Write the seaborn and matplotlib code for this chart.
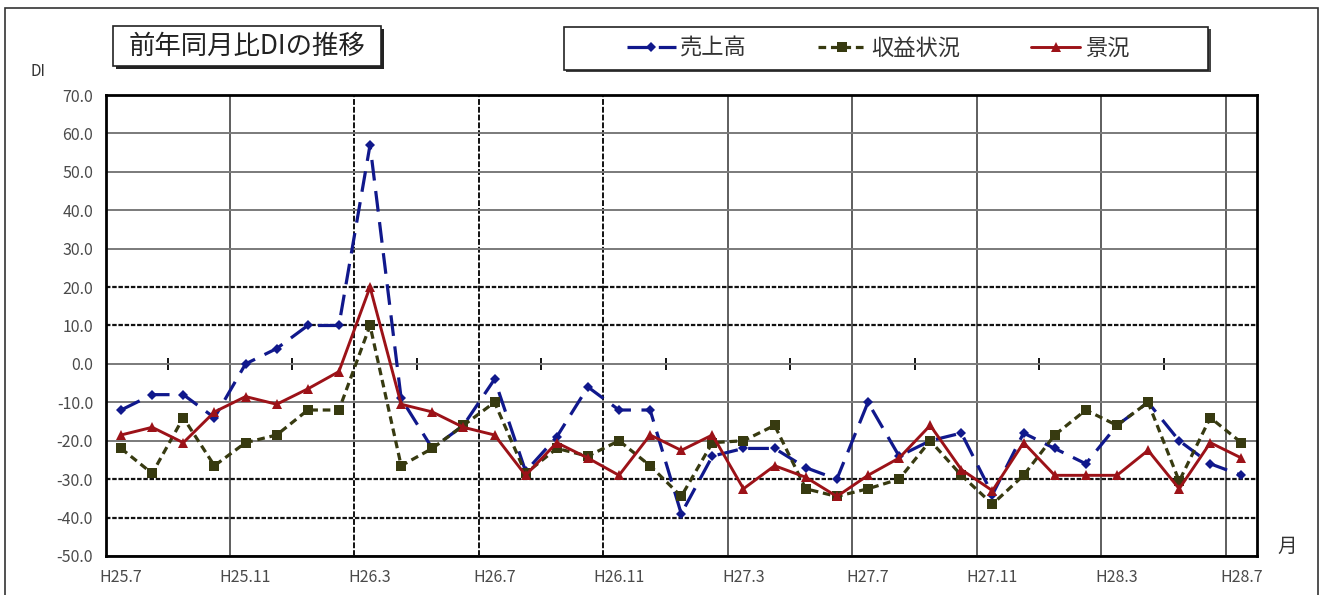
import matplotlib
matplotlib.use("Agg")
import matplotlib.pyplot as plt
import seaborn as sns
import pandas as pd
from matplotlib.patches import Rectangle

# ---------------- data ----------------
months = ["H25.7", "H25.8", "H25.9", "H25.10", "H25.11", "H25.12",
          "H26.1", "H26.2", "H26.3", "H26.4", "H26.5", "H26.6",
          "H26.7", "H26.8", "H26.9", "H26.10", "H26.11", "H26.12",
          "H27.1", "H27.2", "H27.3", "H27.4", "H27.5", "H27.6",
          "H27.7", "H27.8", "H27.9", "H27.10", "H27.11", "H27.12",
          "H28.1", "H28.2", "H28.3", "H28.4", "H28.5", "H28.6", "H28.7"]
tick_labels = ["H25.7", "H25.11", "H26.3", "H26.7", "H26.11",
               "H27.3", "H27.7", "H27.11", "H28.3", "H28.7"]
series_names = ["売上高", "収益状況", "景況"]
sales = [-12, -8, -8, -14, 0, 4, 10, 10, 57, -9, -22, -16, -4, -28, -19, -6,
         -12, -12, -39, -24, -22, -22, -27, -30, -10, -24, -20, -18, -34, -18,
         -22, -26, -16, -10, -20, -26, -29]
profit = [-22, -28.5, -14, -26.5, -20.5, -18.5, -12, -12, 10, -26.5, -22, -16,
          -10, -28.5, -22, -24, -20, -26.5, -34.5, -20.5, -20, -16, -32.5, -34.5,
          -32.5, -30, -20, -29, -36.5, -29, -18.5, -12, -16, -10, -30.5, -14, -20.5]
business = [-18.5, -16.5, -20.5, -12.5, -8.5, -10.5, -6.5, -2, 20, -10.5, -12.5,
            -16.5, -18.5, -29, -20.5, -24.5, -29, -18.5, -22.5, -18.5, -32.5, -26.5,
            -29.5, -34.5, -29, -24.5, -16, -27.5, -33, -20.5, -29, -29, -29, -22.5,
            -32.5, -20.5, -24.5]

df = pd.DataFrame({
    "月": months * 3,
    "pos": list(range(len(months))) * 3,
    "DI": sales + profit + business,
    "系列": [series_names[0]] * len(months) + [series_names[1]] * len(months)
            + [series_names[2]] * len(months),
})

colors = {"売上高": "#10188c", "収益状況": "#373a10", "景況": "#9c1218"}

# ---------------- style ----------------
sns.set_style("white")
plt.rcParams["font.family"] = ["Noto Sans CJK JP", "DejaVu Sans"]

W, H = 1320, 595
fig = plt.figure(figsize=(W / 100, H / 100), dpi=100)
ax = fig.add_axes([105.5 / W, 39 / H, 1151.5 / W, 461 / H])

sns.lineplot(data=df, x="pos", y="DI", hue="系列", style="系列",
             hue_order=series_names, style_order=series_names,
             palette=colors,
             dashes={"売上高": (6.5, 3.3), "収益状況": (2.4, 1.5), "景況": ""},
             markers={"売上高": "D", "収益状況": "s", "景況": "^"},
             linewidth=2.3, markersize=6, markeredgewidth=0,
             sort=False, legend=False, ax=ax)

lines = ax.lines[:3]
lines[0].set_markersize(5.5)
lines[1].set_markersize(6.5)
lines[2].set_linewidth(2.1)
lines[2].set_markersize(6.5)

ax.set_xlim(-0.5, len(months) - 0.5)
ax.set_ylim(-50, 70)
ax.set_xlabel("")
ax.set_ylabel("")

# y axis
yt = list(range(-50, 71, 10))
ax.set_yticks(yt)
ax.set_yticklabels([f"{v:.1f}" for v in yt])
# x axis: labels every 4 months, gridlines at category boundaries
ax.set_xticks([months.index(t) for t in tick_labels])
ax.set_xticklabels(tick_labels)
ax.set_xticks([months.index(t) - 0.5 for t in tick_labels[1:]], minor=True)
ax.tick_params(axis="both", which="both", length=0, labelsize=11.5,
               colors="#4a4a4a")
ax.tick_params(axis="x", pad=9)
ax.tick_params(axis="y", pad=9)

ax.set_axisbelow(True)
ax.grid(axis="y", which="major", color="#7a7a7a", lw=1.4)
ax.grid(axis="x", which="minor", color="#333333", lw=1.1)
ax.grid(axis="x", which="major", visible=False)
for v, gl in zip(yt, ax.yaxis.get_gridlines()):
    if v in (20, 10, -30, -40):
        gl.set_color("#111111")
        gl.set_linestyle((0, (2, 0.8)))
        gl.set_linewidth(1.6)
for k, tk in enumerate(ax.xaxis.get_minor_ticks()):
    if k in (1, 2, 3):
        tk.gridline.set_color("#111111")
        tk.gridline.set_linestyle((0, (3, 1)))
        tk.gridline.set_linewidth(1.4)

for sp in ax.spines.values():
    sp.set_color("black")
    sp.set_linewidth(2)

# small tick marks on the zero line
sec = ax.secondary_xaxis((0 - (-50)) / 120)
sec.set_xticks([months.index(t) - 2.5 for t in tick_labels[1:]])
sec.set_xticklabels([])
sec.tick_params(direction="inout", length=9, width=1.3, color="black")
sec.spines["bottom"].set_visible(False)

# ---------------- decorations ----------------
def px_rect(x0, y0, x1, y1, **kw):
    return Rectangle((x0 / W, 1 - y1 / H), (x1 - x0) / W, (y1 - y0) / H,
                     transform=fig.transFigure, **kw)

# outer frame
fig.add_artist(px_rect(5, 8, 1318, 610, fill=False, ec="#333333", lw=1.2))

# title box with shadow
fig.add_artist(px_rect(116, 29, 384, 69, fc="#222222", ec="none"))
fig.add_artist(px_rect(113, 26, 381, 66, fc="white", ec="#222222", lw=1.2))
fig.text((113 + 381) / 2 / W, 1 - 46 / H, "前年同月比DIの推移",
         ha="center", va="center", fontsize=19, color="#222222")

# legend box with shadow
fig.add_artist(px_rect(566, 29, 1211, 72, fc="#444444", ec="none"))
fig.add_artist(px_rect(564, 27, 1208, 70, fc="white", ec="#222222", lw=1.2))
fig.legend(handles=lines, labels=series_names, loc="center",
           bbox_to_anchor=(878 / W, 1 - 48.5 / H), ncol=3, frameon=False,
           fontsize=16, handlelength=2.2, handletextpad=0.2,
           columnspacing=3.2, labelcolor="#333333")

fig.text(38 / W, 1 - 71 / H, "DI", ha="center", va="center",
         fontsize=11, color="#333333")
fig.text(1287 / W, 1 - 546 / H, "月", ha="center", va="center",
         fontsize=14, color="#333333")

fig.savefig("out.png", dpi=100)
